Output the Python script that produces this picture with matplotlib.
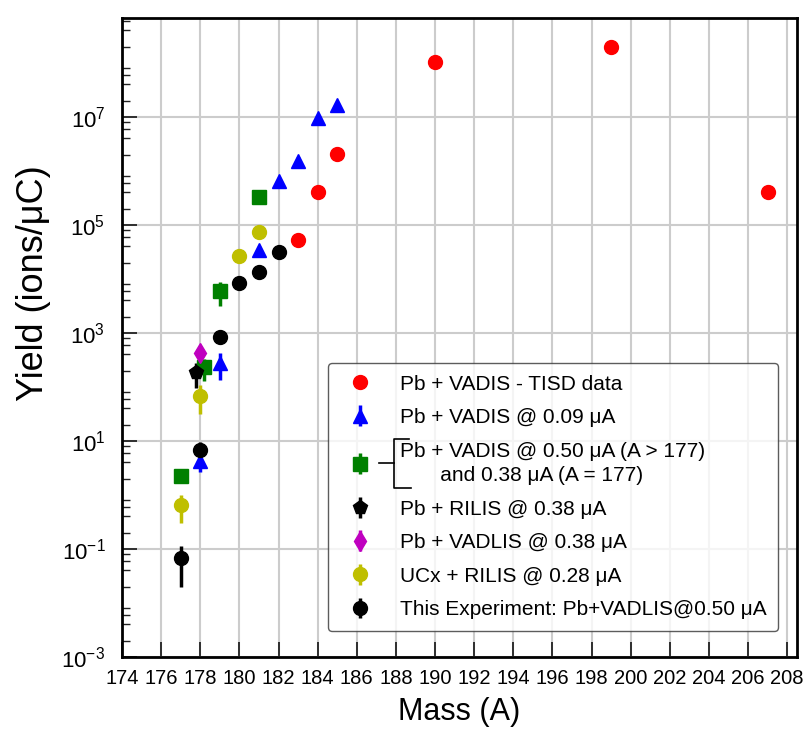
import matplotlib
matplotlib.use("Agg")
import matplotlib.pyplot as plt
from matplotlib.ticker import LogLocator, FixedLocator
from matplotlib.lines import Line2D

plt.rcParams['font.family'] = ['Liberation Sans', 'DejaVu Sans']
plt.rcParams['mathtext.fontset'] = 'custom'
plt.rcParams['mathtext.rm'] = 'Liberation Sans'
plt.rcParams['mathtext.it'] = 'Liberation Sans:italic'
plt.rcParams['mathtext.bf'] = 'Liberation Sans:bold'

# Pb + VADIS - TISD data
tisd_A = [183, 184, 185, 190, 199, 207]
tisd_Y = [5.3e4, 4.1e5, 2.1e6, 1.05e8, 2.0e8, 4.0e5]

# Pb + VADIS @ 0.09 uA
v009_A = [178, 179, 181, 182, 183, 184, 185]
v009_Y = [4.2, 282, 3.5e4, 6.6e5, 1.5e6, 9.6e6, 1.7e7]
v009_err = [1.5, 150, 4e3, 5e4, 3e5, 5e5, 1e6]

# Pb + VADIS @ 0.50 uA (A > 177) and 0.38 uA (A = 177)
v050_A = [177, 178.2, 179, 181]
v050_Y = [2.2, 230, 6000, 3.3e5]
v050_err = [0.2, 100, 2800, 3e4]

# Pb + RILIS @ 0.38 uA
rilis_A = [177.8]
rilis_Y = [186]
rilis_err = [90]

# Pb + VADLIS @ 0.38 uA
vadlis_A = [178]
vadlis_Y = [417]
vadlis_err = [40]

# UCx + RILIS @ 0.28 uA
ucx_A = [177, 178, 180, 181]
ucx_Y = [0.65, 69, 2.7e4, 7.3e4]
ucx_err = [0.35, 38, 6e3, 1e4]

# this experiment
this_A = [177, 178, 179, 180, 181, 182]
this_Y = [0.068, 6.9, 850, 8500, 1.35e4, 3.1e4]
this_err = [0.048, 2.5, 100, 800, 1000, 2000]

fig = plt.figure(figsize=(8.11, 7.40), dpi=100)
ax = fig.add_axes([122/811, 1 - 657/740, 675/811, 639/740])

ms = 10
eb = dict(ls='none', elinewidth=2.5, capsize=0, ms=ms)
ax.plot(tisd_A, tisd_Y, 'o', color='r', ms=ms, label='Pb + VADIS - TISD data', zorder=3)
ax.errorbar(v009_A, v009_Y, yerr=v009_err, fmt='^', color='b',
            label='Pb + VADIS @ 0.09 μA', zorder=3, **eb)
ax.errorbar(v050_A, v050_Y, yerr=v050_err, fmt='s', color='g',
            label='Pb + VADIS @ 0.50 μA (A > 177)\n       and 0.38 μA (A = 177)', zorder=3, **eb)
ax.errorbar(rilis_A, rilis_Y, yerr=rilis_err, fmt='p', color='k',
            label='Pb + RILIS @ 0.38 μA', zorder=3, **eb)
ax.errorbar(vadlis_A, vadlis_Y, yerr=vadlis_err, fmt='d', color='m',
            label='Pb + VADLIS @ 0.38 μA', zorder=3, **eb)
ax.errorbar(ucx_A, ucx_Y, yerr=ucx_err, fmt='o', color='y',
            label='UCx + RILIS @ 0.28 μA', zorder=3, **eb)
ax.errorbar(this_A, this_Y, yerr=this_err, fmt='o', color='k',
            label='This Experiment: Pb+VADLIS@0.50 μA', zorder=3, **eb)

ax.set_yscale('log')
ax.set_xlim(174, 208.5)
ax.set_ylim(1e-3, 6.8e8)
ax.set_xticks(range(174, 209, 2))
ax.yaxis.set_major_locator(FixedLocator([10.0**k for k in range(-3, 9, 2)]))
ax.yaxis.set_minor_locator(LogLocator(base=10, subs=(2, 4, 6, 8), numticks=40))
ax.yaxis.set_minor_formatter(plt.NullFormatter())

ax.grid(True, which='major', color='#cccccc', lw=1.5, zorder=0)
ax.set_axisbelow(True)
for s in ax.spines.values():
    s.set_linewidth(2)
ax.tick_params(which='both', direction='in', color='#222222')
ax.tick_params(which='major', length=11, width=1.3)
ax.tick_params(which='minor', length=6, width=1)
ax.tick_params(axis='y', labelsize=16, pad=12)
ax.tick_params(axis='x', labelsize=14.5, pad=9)

ax.set_xlabel('Mass (A)', fontsize=22, labelpad=6)
ax.set_ylabel('Yield (ions/μC)', fontsize=26)
ax.yaxis.set_label_coords(-0.105, 0.585)

leg = ax.legend(loc='upper left', bbox_to_anchor=(0.305, 0.46), borderaxespad=0,
                fontsize=15, frameon=True, fancybox=True, edgecolor='#333333',
                handletextpad=0.9, borderpad=0.55, labelspacing=0.7)
leg.get_frame().set_linewidth(1.0)
leg.set_zorder(5)
leg.get_texts()[2].set_linespacing(1.35)

# bracket for the two-line legend entry, placed from the drawn legend text
fig.canvas.draw()
txt = leg.get_texts()[2]
bb = txt.get_window_extent()
ymid = (bb.y0 + bb.y1) / 2
xb = bb.x0 - 6
ytop = bb.y1 + 3
ybot = bb.y0 - 3
br = dict(color='k', lw=1.2, transform=None, clip_on=False, zorder=6)
fig.add_artist(Line2D([xb + 15, xb, xb, xb + 17], [ytop, ytop, ybot, ybot], **br))
fig.add_artist(Line2D([xb - 15, xb], [ymid, ymid], **br))

fig.savefig('out.png', dpi=100)
